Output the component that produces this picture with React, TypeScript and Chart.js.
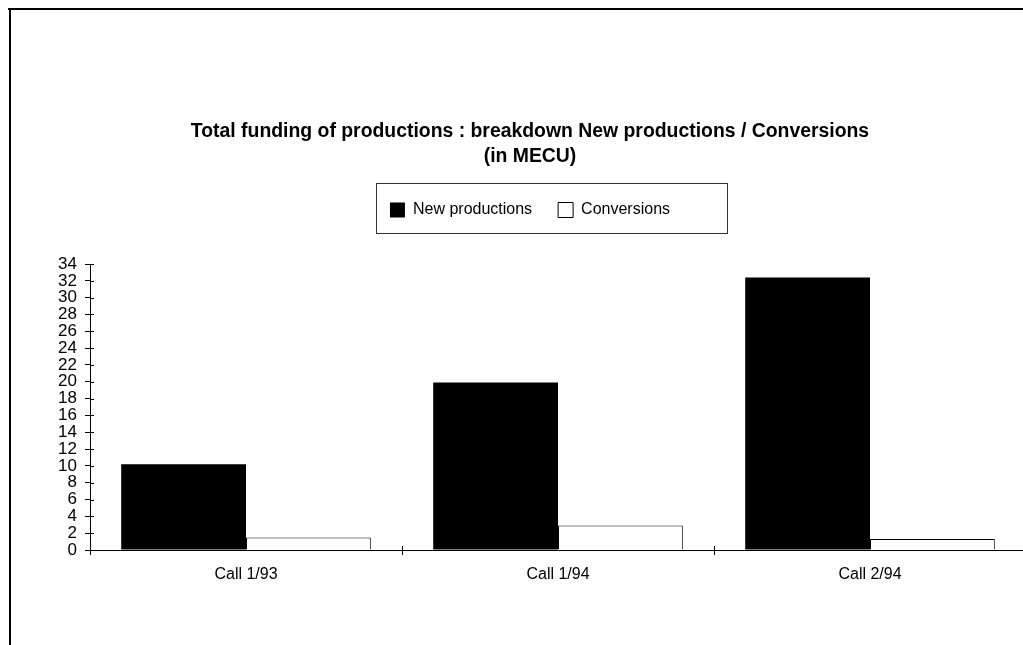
import React, { useEffect, useRef } from 'react';
import { Chart, registerables } from 'chart.js';

Chart.register(...registerables);

const categories = ['Call 1/93', 'Call 1/94', 'Call 2/94'];
const seriesLabels = ['New productions', 'Conversions'];
const newProductions = [10.2, 19.9, 32.4];
const conversions = [1.5, 2.9, 1.3];
const titleLines = ['Total funding of productions : breakdown New productions / Conversions', '(in MECU)'];
const yMin = 0;
const yMax = 34;
const yStep = 2;

const legendFramePlugin = {
  id: 'legendFrame',
  afterDraw(chart: any) {
    const lg = chart.legend;
    if (!lg || !lg.legendHitBoxes || !lg.legendHitBoxes.length) return;
    const hb = lg.legendHitBoxes;
    const first = hb[0];
    const last = hb[hb.length - 1];
    const cy = first.top + first.height / 2;
    const ctx = chart.ctx;
    ctx.save();
    ctx.strokeStyle = '#333';
    ctx.lineWidth = 1;
    const left = Math.round(first.left - 14) + 0.5;
    const right = Math.round(last.left + last.width + 57) + 0.5;
    const top = Math.round(cy - 27) + 0.5;
    const bottom = Math.round(cy + 23) + 0.5;
    ctx.strokeRect(left, top, right - left, bottom - top);
    ctx.restore();
  },
};

const innerTicksPlugin = {
  id: 'innerTicks',
  afterDraw(chart: any) {
    const { ctx, chartArea, scales } = chart;
    const ys = scales.y;
    const xs = scales.x;
    ctx.save();
    ctx.strokeStyle = '#000';
    ctx.lineWidth = 1;
    ctx.beginPath();
    ys.ticks.forEach((_t: any, i: number) => {
      const py = Math.round(ys.getPixelForTick(i)) + 0.5;
      ctx.moveTo(chartArea.left, py);
      ctx.lineTo(chartArea.left + 4, py);
    });
    for (let i = 0; i < categories.length; i++) {
      const px = Math.round(xs.getPixelForValue(i + 0.5)) + 0.5;
      ctx.moveTo(px, chartArea.bottom);
      ctx.lineTo(px, chartArea.bottom - 4);
    }
    ctx.stroke();
    ctx.restore();
  },
};

export default function App() {
  const canvasRef = useRef<HTMLCanvasElement | null>(null);

  useEffect(() => {
    if (!canvasRef.current) return;
    Chart.defaults.font.family = '"Liberation Sans", Arial, sans-serif';
    Chart.defaults.color = '#000';
    const chart = new Chart(canvasRef.current, {
      type: 'bar',
      data: {
        labels: categories,
        datasets: [
          {
            label: seriesLabels[0],
            data: newProductions,
            backgroundColor: '#000',
            borderColor: '#000',
            borderWidth: 0,
            barPercentage: 1,
            categoryPercentage: 0.8,
          },
          {
            label: seriesLabels[1],
            data: conversions,
            backgroundColor: '#fff',
            borderColor: '#000',
            borderWidth: 1,
            barPercentage: 1,
            categoryPercentage: 0.8,
          },
        ],
      },
      options: {
        responsive: false,
        animation: false,
        layout: { padding: { left: 34, top: 119, right: 14, bottom: 0 } },
        plugins: {
          title: {
            display: true,
            text: titleLines,
            color: '#000',
            font: { size: 19.4, weight: 'bold', lineHeight: 25 / 19.4 },
            padding: { top: 0, bottom: 7 },
          },
          subtitle: {
            display: true,
            text: ' ',
            weight: 500,
            font: { size: 10, lineHeight: 1 },
            padding: { top: 13, bottom: 13 },
          } as any,
          legend: {
            display: true,
            position: 'top',
            labels: {
              color: '#000',
              font: { size: 16 },
              boxWidth: 15,
              boxHeight: 15,
              padding: 26,
            },
          },
          tooltip: { enabled: false },
        },
        scales: {
          x: {
            afterFit: (scale: any) => {
              scale.height = 95;
            },
            grid: {
              display: true,
              drawOnChartArea: false,
              drawTicks: true,
              tickLength: 5,
              color: '#000',
              offset: true,
            },
            border: { display: true, color: '#000', width: 1 },
            ticks: { color: '#000', font: { size: 16 }, padding: 10 },
          },
          y: {
            min: yMin,
            max: yMax,
            afterFit: (scale: any) => {
              scale.width = 56;
            },
            grid: {
              display: true,
              drawOnChartArea: false,
              drawTicks: true,
              tickLength: 5,
              color: '#000',
            },
            border: { display: true, color: '#000', width: 1 },
            ticks: {
              stepSize: yStep,
              autoSkip: false,
              color: '#000',
              font: { size: 17 },
              padding: 8,
            },
          },
        },
      },
      plugins: [legendFramePlugin, innerTicksPlugin],
    } as any);
    return () => chart.destroy();
  }, []);

  return (
    <div
      style={{
        position: 'fixed',
        left: 0,
        top: 0,
        width: 1023,
        height: 645,
        overflow: 'hidden',
        background: '#fff',
      }}
    >
      <canvas ref={canvasRef} width={1040} height={645} style={{ display: 'block' }} />
      <div style={{ position: 'absolute', left: 8, top: 8, width: 1015, height: 2, background: '#000' }} />
      <div style={{ position: 'absolute', left: 9, top: 8, width: 2, height: 637, background: '#000' }} />
    </div>
  );
}
